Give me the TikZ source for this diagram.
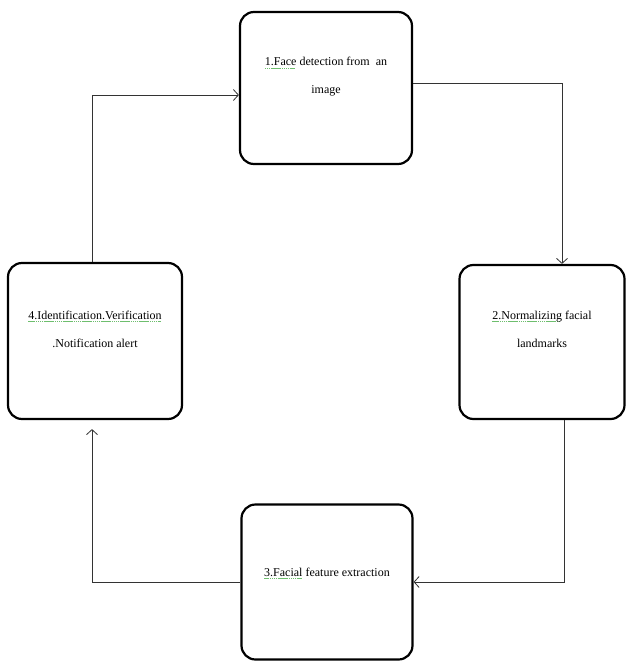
\documentclass[tikz,border=0pt]{standalone}
\usepackage{fontspec}
\setmainfont{Liberation Serif}
\usepackage{xcolor}
\usepackage{tikz}
\usetikzlibrary{arrows.meta, calc}

\definecolor{spellgreen}{RGB}{110,190,110}
\newsavebox\spellbox
\newcommand\spellmark[1]{\sbox\spellbox{#1}%
  \rlap{\textcolor{spellgreen}{\leaders\hbox{\rule[-0.45ex]{1.4pt}{0.6pt}\kern0.5pt}\hskip\wd\spellbox}}%
  \usebox\spellbox}

\begin{document}
\begin{tikzpicture}[
  x=1pt, y=-1pt,
  font=\fontsize{12}{28}\selectfont,
  stepbox/.style={
    rectangle, draw=black, rounded corners=14pt,
    align=center, line width=2.2pt, fill=white
  },
  flow/.style={-{Straight Barb[length=5pt, width=11pt]}, line width=0.8pt, draw=black!80}
]
\useasboundingbox (0,0) rectangle (629,664);
\node[stepbox, minimum width=172pt, minimum height=152pt] (s1) at (326,88)
  {\spellmark{1.Face} detection from\ \ an\\image\\[-3pt]};
\node[stepbox, minimum width=165pt, minimum height=154pt] (s2) at (542,342)
  {\spellmark{2.Normalizing} facial\\landmarks\\[-2pt]};
\node[stepbox, minimum width=171pt, minimum height=155pt] (s3) at (327,582)
  {\spellmark{3.Facial} feature extraction\\[-8pt]};
\node[stepbox, minimum width=174pt, minimum height=156pt] (s4) at (95,341)
  {\spellmark{4.Identification.Verification}\\.Notification alert\\[-4pt]};
% cycle of steps
\draw[flow] ([yshift=5pt]s1.east) -| ([xshift=20pt]s2.north);
\draw[flow] ([xshift=22pt]s2.south) |- (s3.east);
\draw[flow, shorten >=9pt] (s3.west) -| ([xshift=-3pt]s4.south);
\draw[flow] ([xshift=-3pt]s4.north) |- ([yshift=-7pt]s1.west);
\end{tikzpicture}
\end{document}
